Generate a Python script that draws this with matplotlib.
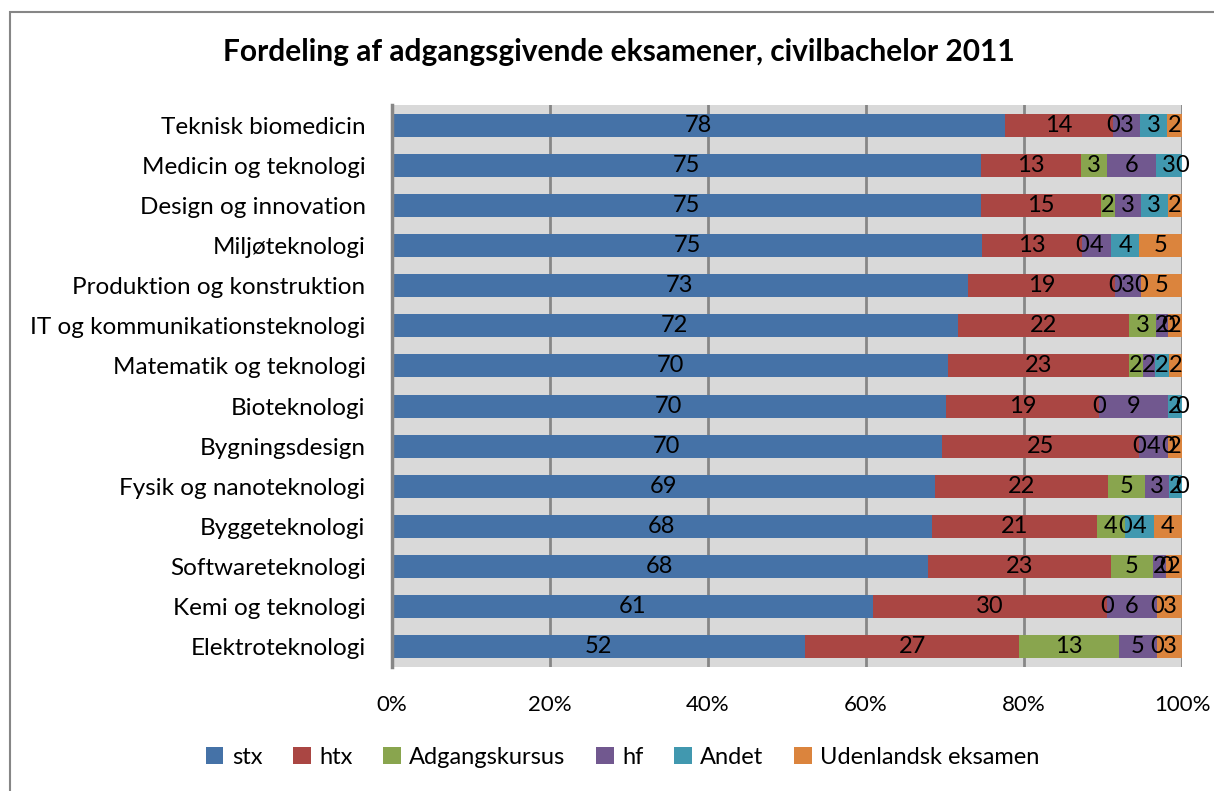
import matplotlib
matplotlib.use("Agg")
import matplotlib.pyplot as plt
from matplotlib.patches import Rectangle
import numpy as np

# Rows top to bottom
categories = [
    "Teknisk biomedicin", "Medicin og teknologi", "Design og innovation",
    "Miljøteknologi", "Produktion og konstruktion",
    "IT og kommunikationsteknologi", "Matematik og teknologi",
    "Bioteknologi", "Bygningsdesign", "Fysik og nanoteknologi",
    "Byggeteknologi", "Softwareteknologi", "Kemi og teknologi",
    "Elektroteknologi",
]
series_names = ["stx", "htx", "Adgangskursus", "hf", "Andet",
                "Udenlandsk eksamen"]

# Percent shares per series
stx = [77.6, 74.6, 74.6, 74.7, 72.9, 71.6, 70.4, 70.1, 69.6, 68.7, 68.3, 67.8, 60.9, 52.3]
htx = [13.7, 12.6, 15.1, 12.6, 18.6, 21.7, 22.9, 19.4, 25.0, 21.9, 20.9, 23.2, 29.6, 27.1]
adgangskursus = [0.0, 3.3, 1.8, 0.0, 0.0, 3.4, 1.7, 0.0, 0.0, 4.7, 3.6, 5.3, 0.0, 12.6]
hf = [3.4, 6.2, 3.3, 3.7, 3.3, 1.5, 1.6, 8.7, 3.6, 3.1, 0.0, 1.7, 6.3, 4.8]
andet = [3.4, 3.3, 3.4, 3.6, 0.0, 0.0, 1.7, 1.8, 0.0, 1.6, 3.6, 0.0, 0.0, 0.0]
udenlandsk = [1.9, 0.0, 1.8, 5.4, 5.2, 1.8, 1.7, 0.0, 1.8, 0.0, 3.6, 2.0, 3.2, 3.2]

x_ticks = [0, 20, 40, 60, 80, 100]
x_tick_labels = ["0%", "20%", "40%", "60%", "80%", "100%"]

COLORS = ["#4572A7", "#AA4643", "#89A54E", "#71588F", "#4198AF", "#DB843D"]

plt.rcParams["font.family"] = ["Lato", "DejaVu Sans"]

W, H = 1214, 791
fig = plt.figure(figsize=(W / 100, H / 100), dpi=100)
ax = fig.add_axes([392 / W, 1 - 667 / H, (1182 - 392) / W, (667 - 105) / H])

data = [stx, htx, adgangskursus, hf, andet, udenlandsk]
y = np.arange(len(categories))
left = np.zeros(len(categories))
for vals, name, col in zip(data, series_names, COLORS):
    vals = np.array(vals)
    ax.barh(y, vals, left=left, height=0.57, color=col, label=name,
            edgecolor="none", zorder=2)
    for yi, l, v in zip(y, left, vals):
        ax.text(l + v / 2, yi, f"{int(round(v))}", ha="center", va="center",
                fontsize=17, color="black", zorder=3)
    left = left + vals

ax.set_facecolor("#D9D9D9")
ax.set_xlim(0, 100)
ax.set_ylim(len(categories) - 0.5, -0.5)
ax.set_yticks(y)
ax.set_yticklabels(categories, fontsize=17.5)
ax.set_xticks(x_ticks)
ax.set_xticklabels(x_tick_labels, fontsize=16)
ax.tick_params(axis="both", length=0)
ax.tick_params(axis="y", pad=19)
ax.tick_params(axis="x", pad=20)
ax.grid(True, axis="x", color="#868686", linewidth=2, zorder=1)
ax.set_axisbelow(True)
for s in ["top", "right", "bottom"]:
    ax.spines[s].set_visible(False)
ax.spines["left"].set_color("#868686")
ax.spines["left"].set_linewidth(2.5)

fig.text(0.5 * (227 + 1010) / W, 1 - 52 / H,
         "Fordeling af adgangsgivende eksamener, civilbachelor 2011",
         ha="center", va="center", fontsize=21.5, fontweight="bold")

ax.legend(loc="center", bbox_to_anchor=(0.5 * (215 + 1030) / W, 1 - 757 / H),
          bbox_transform=fig.transFigure, ncol=6, frameon=False,
          fontsize=17, handlelength=0.75, handleheight=0.75,
          handletextpad=0.35, columnspacing=1.3)

fig.patches.append(Rectangle((10 / W, -0.1), 1.2, 1 - 12 / H + 0.1,
                             transform=fig.transFigure, fill=False,
                             edgecolor="#868686", linewidth=1.5))

fig.savefig("out.png", dpi=100)
